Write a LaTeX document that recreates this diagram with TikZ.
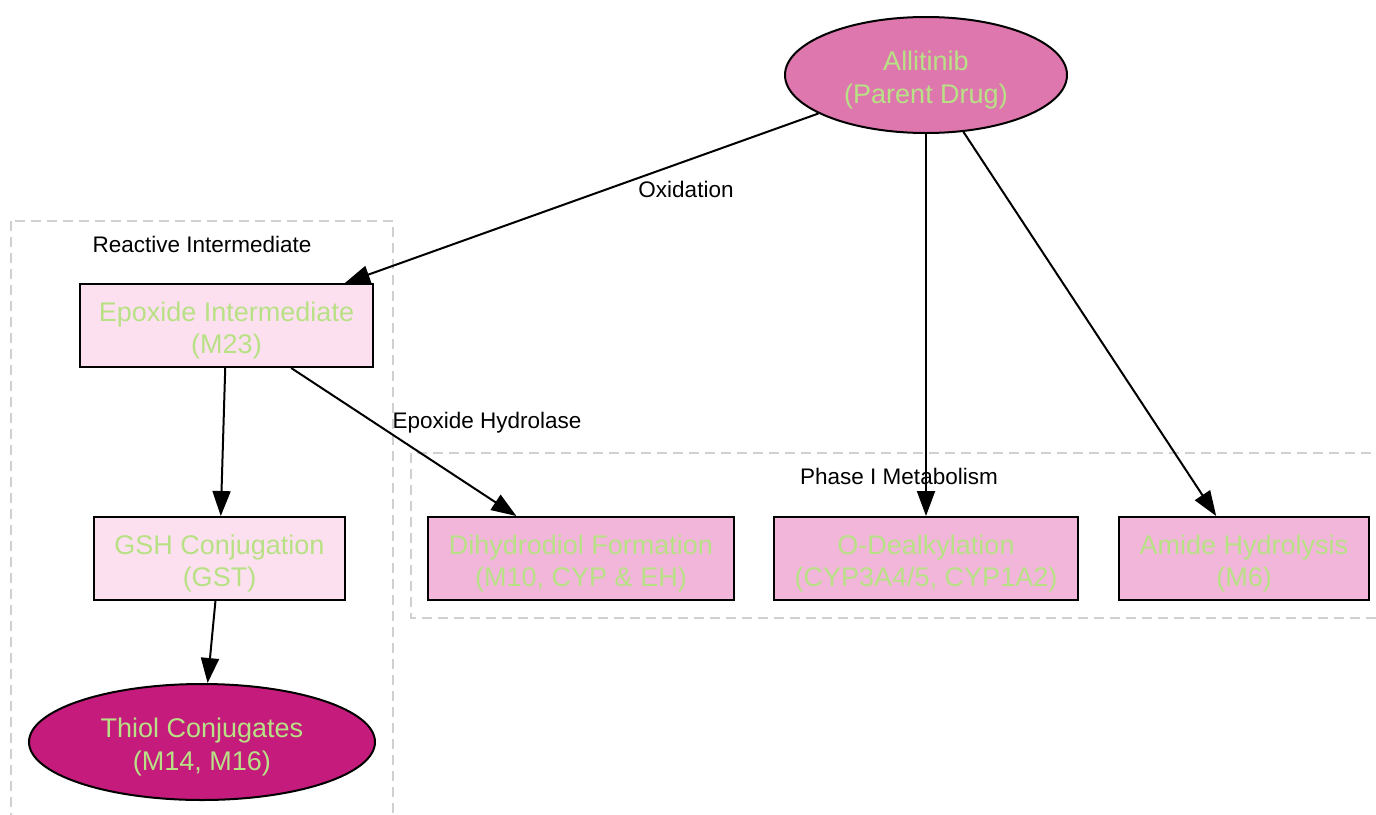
\documentclass[tikz,border=0pt]{standalone}
\usepackage{fontspec}
\setmainfont{Liberation Sans}
\usetikzlibrary{shapes.geometric,arrows.meta}
\definecolor{piyg1}{HTML}{C51B7D}
\definecolor{piyg2}{HTML}{DE77AE}
\definecolor{piyg3}{HTML}{F1B6DA}
\definecolor{piyg4}{HTML}{FDE0EF}
\definecolor{txtgreen}{HTML}{B8E186}
\definecolor{clustergray}{HTML}{D0D0D0}
\newcommand{\topstrut}{\rule{0pt}{30pt}}
\tikzset{
  base/.style={draw=black, line width=2pt, inner sep=0pt, align=center, text=txtgreen,
    font=\fontsize{27}{32.5}\selectfont},
  ell/.style={base, ellipse, minimum height=116pt},
  box/.style={base, rectangle, minimum height=83pt},
  lbl/.style={font=\fontsize{22.5}{26}\selectfont, text=black, inner sep=0pt},
  cluster/.style={draw=clustergray, line width=2pt, dash pattern=on 10pt off 6pt},
  edge/.style={draw=black, line width=2pt, -{Triangle[length=25pt,width=18pt]}},
}
\begin{document}
\begin{tikzpicture}[x=1pt,y=-1pt]
\useasboundingbox (0,0) rectangle (1376,814);
\clip (0,0) rectangle (1376,814);
\fill[white] (0,0) rectangle (1376,814);
% clusters
\draw[cluster] (11,221) rectangle (393,830);
\node[lbl] (reactlbl) at (202,244) {Reactive Intermediate};
\draw[cluster] (411,453) rectangle (1390,618);
\node[lbl] (phaselbl) at (899,476) {Phase I Metabolism};
% nodes
\node[ell, fill=piyg2, minimum width=282pt] (alli) at (926,75) {\topstrut Allitinib\\(Parent Drug)};
\node[box, fill=piyg4, minimum width=293pt] (epox) at (226.5,325.5) {\topstrut Epoxide Intermediate\\(M23)};
\node[box, fill=piyg4, minimum width=251pt] (gsh) at (219.5,558.5) {\topstrut GSH Conjugation\\(GST)};
\node[ell, fill=piyg1, minimum width=346pt] (thiol) at (202,742) {\topstrut Thiol Conjugates\\(M14, M16)};
\node[box, fill=piyg3, minimum width=306pt] (dihy) at (581,558.5) {\topstrut Dihydrodiol Formation\\(M10, CYP \& EH)};
\node[box, fill=piyg3, minimum width=304pt] (odea) at (926,558.5) {\topstrut O-Dealkylation\\(CYP3A4/5, CYP1A2)};
\node[box, fill=piyg3, minimum width=250pt] (amide) at (1244,558.5) {\topstrut Amide Hydrolysis\\(M6)};
% edges
\draw[edge] (alli) -- (epox);
\draw[edge] (alli) -- (odea);
\draw[edge] (alli) -- (amide);
\draw[edge] (epox) -- (gsh);
\draw[edge] (epox) -- (dihy);
\draw[edge] (gsh) -- (thiol);
% edge labels
\node[lbl] (oxl) at (686,189) {Oxidation};
\node[lbl] (ehl) at (487,423) {Epoxide Hydrolase};
\end{tikzpicture}
\end{document}
